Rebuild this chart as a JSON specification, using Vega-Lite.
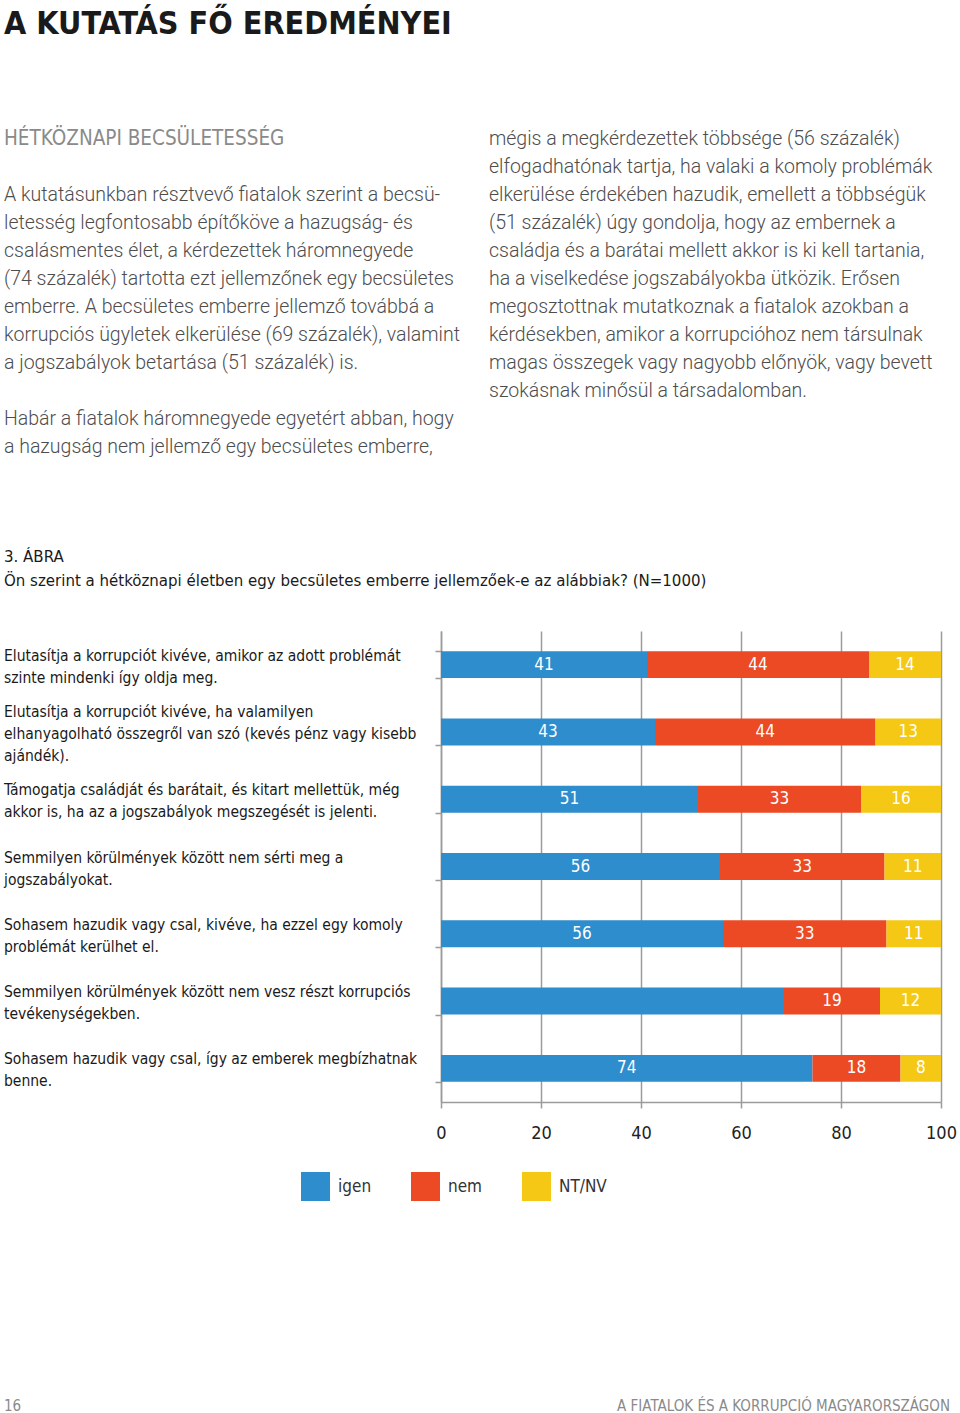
{
  "$schema": "https://vega.github.io/schema/vega-lite/v6.json",
  "padding": {"left": 4, "top": 8, "right": 0, "bottom": 0},
  "background": "white",
  "spacing": 0,
  "config": {
    "view": {"stroke": null},
    "font": "DejaVu Sans Condensed, sans-serif"
  },
  "vconcat": [
    {
      "width": 485,
      "height": 410,
      "title": {"text": "A KUTATÁS FŐ EREDMÉNYEI", "anchor": "start", "fontSize": 32, "fontWeight": "bold", "color": "#1a1a1a", "offset": 88},
      "data": {"values": [
        {"col": "left", "line": 0, "kind": "heading", "text": "HÉTKÖZNAPI BECSÜLETESSÉG"},
        {"col": "left", "line": 2, "kind": "body", "text": "A kutatásunkban résztvevő fiatalok szerint a becsü-"},
        {"col": "left", "line": 3, "kind": "body", "text": "letesség legfontosabb építőköve a hazugság- és"},
        {"col": "left", "line": 4, "kind": "body", "text": "csalásmentes élet, a kérdezettek háromnegyede"},
        {"col": "left", "line": 5, "kind": "body", "text": "(74 százalék) tartotta ezt jellemzőnek egy becsületes"},
        {"col": "left", "line": 6, "kind": "body", "text": "emberre. A becsületes emberre jellemző továbbá a"},
        {"col": "left", "line": 7, "kind": "body", "text": "korrupciós ügyletek elkerülése (69 százalék), valamint"},
        {"col": "left", "line": 8, "kind": "body", "text": "a jogszabályok betartása (51 százalék) is."},
        {"col": "left", "line": 10, "kind": "body", "text": "Habár a fiatalok háromnegyede egyetért abban, hogy"},
        {"col": "left", "line": 11, "kind": "body", "text": "a hazugság nem jellemző egy becsületes emberre,"},
        {"col": "right", "line": 0, "kind": "body", "text": "mégis a megkérdezettek többsége (56 százalék)"},
        {"col": "right", "line": 1, "kind": "body", "text": "elfogadhatónak tartja, ha valaki a komoly problémák"},
        {"col": "right", "line": 2, "kind": "body", "text": "elkerülése érdekében hazudik, emellett a többségük"},
        {"col": "right", "line": 3, "kind": "body", "text": "(51 százalék) úgy gondolja, hogy az embernek a"},
        {"col": "right", "line": 4, "kind": "body", "text": "családja és a barátai mellett akkor is ki kell tartania,"},
        {"col": "right", "line": 5, "kind": "body", "text": "ha a viselkedése jogszabályokba ütközik. Erősen"},
        {"col": "right", "line": 6, "kind": "body", "text": "megosztottnak mutatkoznak a fiatalok azokban a"},
        {"col": "right", "line": 7, "kind": "body", "text": "kérdésekben, amikor a korrupcióhoz nem társulnak"},
        {"col": "right", "line": 8, "kind": "body", "text": "magas összegek vagy nagyobb előnyök, vagy bevett"},
        {"col": "right", "line": 9, "kind": "body", "text": "szokásnak minősül a társadalomban."}
      ]},
      "encoding": {
        "x": {"field": "col", "type": "nominal", "scale": {"type": "point", "padding": 0, "domain": ["left", "right"]}, "axis": null},
        "y": {"field": "line", "type": "quantitative", "scale": {"domain": [0, 14.643], "reverse": true, "nice": false}, "axis": null},
        "text": {"field": "text", "type": "nominal"}
      },
      "layer": [
        {
          "transform": [{"filter": "datum.kind === 'body'"}],
          "mark": {"type": "text", "align": "left", "baseline": "middle", "font": "Roboto", "fontWeight": 300, "fontSize": 19.5, "color": "#4d4d4d"}
        },
        {
          "transform": [{"filter": "datum.kind === 'heading'"}],
          "mark": {"type": "text", "align": "left", "baseline": "middle", "fontSize": 20.5, "color": "#8a8a8a"}
        }
      ]
    },
    {
      "title": {"text": ["3. ÁBRA", "Ön szerint a hétköznapi életben egy becsületes emberre jellemzőek-e az alábbiak? (N=1000)"], "anchor": "start", "fontSize": 16.7, "fontWeight": "normal", "lineHeight": 24, "color": "#1a1a1a", "offset": 41},
      "spacing": 10,
      "hconcat": [
        {
          "width": 420,
          "height": 471,
          "data": {"values": [
            {"q": 1, "lines": ["Elutasítja a korrupciót kivéve, amikor az adott problémát", "szinte mindenki így oldja meg."]},
            {"q": 2, "lines": ["Elutasítja a korrupciót kivéve, ha valamilyen", "elhanyagolható összegről van szó (kevés pénz vagy kisebb", "ajándék)."]},
            {"q": 3, "lines": ["Támogatja családját és barátait, és kitart mellettük, még", "akkor is, ha az a jogszabályok megszegését is jelenti."]},
            {"q": 4, "lines": ["Semmilyen körülmények között nem sérti meg a", "jogszabályokat."]},
            {"q": 5, "lines": ["Sohasem hazudik vagy csal, kivéve, ha ezzel egy komoly", "problémát kerülhet el."]},
            {"q": 6, "lines": ["Semmilyen körülmények között nem vesz részt korrupciós", "tevékenységekben."]},
            {"q": 7, "lines": ["Sohasem hazudik vagy csal, így az emberek megbízhatnak", "benne."]}
          ]},
          "encoding": {
            "y": {"field": "q", "type": "ordinal", "scale": {"type": "band", "domain": [1, 2, 3, 4, 5, 6, 7], "paddingInner": 0.6, "paddingOuter": 0.3}, "axis": null},
            "x": {"value": 0},
            "text": {"field": "lines", "type": "nominal"}
          },
          "layer": [
            {
              "transform": [{"filter": "length(datum.lines) === 2"}],
              "mark": {"type": "text", "align": "left", "baseline": "middle", "dy": -9, "fontSize": 15.5, "lineHeight": 22, "color": "#1a1a1a"}
            },
            {
              "transform": [{"filter": "length(datum.lines) === 3"}],
              "mark": {"type": "text", "align": "left", "baseline": "middle", "dy": -19.5, "fontSize": 15.5, "lineHeight": 22, "color": "#1a1a1a"}
            }
          ]
        },
        {
          "width": 500,
          "height": 471,
          "data": {"values": [
            {"q": 1, "answer": "igen", "order": 1, "value": 41.2, "label": "41"},
            {"q": 1, "answer": "nem", "order": 2, "value": 44.4, "label": "44"},
            {"q": 1, "answer": "NT/NV", "order": 3, "value": 14.4, "label": "14"},
            {"q": 2, "answer": "igen", "order": 1, "value": 42.8, "label": "43"},
            {"q": 2, "answer": "nem", "order": 2, "value": 44.1, "label": "44"},
            {"q": 2, "answer": "NT/NV", "order": 3, "value": 13.1, "label": "13"},
            {"q": 3, "answer": "igen", "order": 1, "value": 51.4, "label": "51"},
            {"q": 3, "answer": "nem", "order": 2, "value": 32.6, "label": "33"},
            {"q": 3, "answer": "NT/NV", "order": 3, "value": 16.0, "label": "16"},
            {"q": 4, "answer": "igen", "order": 1, "value": 55.8, "label": "56"},
            {"q": 4, "answer": "nem", "order": 2, "value": 32.9, "label": "33"},
            {"q": 4, "answer": "NT/NV", "order": 3, "value": 11.3, "label": "11"},
            {"q": 5, "answer": "igen", "order": 1, "value": 56.4, "label": "56"},
            {"q": 5, "answer": "nem", "order": 2, "value": 32.7, "label": "33"},
            {"q": 5, "answer": "NT/NV", "order": 3, "value": 10.9, "label": "11"},
            {"q": 6, "answer": "igen", "order": 1, "value": 68.6, "label": ""},
            {"q": 6, "answer": "nem", "order": 2, "value": 19.2, "label": "19"},
            {"q": 6, "answer": "NT/NV", "order": 3, "value": 12.2, "label": "12"},
            {"q": 7, "answer": "igen", "order": 1, "value": 74.3, "label": "74"},
            {"q": 7, "answer": "nem", "order": 2, "value": 17.6, "label": "18"},
            {"q": 7, "answer": "NT/NV", "order": 3, "value": 8.1, "label": "8"}
          ]},
          "encoding": {
            "y": {
              "field": "q", "type": "ordinal",
              "scale": {"type": "band", "domain": [1, 2, 3, 4, 5, 6, 7], "paddingInner": 0.6, "paddingOuter": 0.3},
              "axis": {
                "title": null, "labels": false, "tickBand": "extent", "tickSize": 6, "tickColor": "#9b9b9b", "tickWidth": 1.5,
                "domainColor": "#9b9b9b", "domainWidth": 1.5
              }
            }
          },
          "layer": [
            {
              "mark": {"type": "bar"},
              "encoding": {
                "x": {
                  "field": "value", "type": "quantitative", "stack": "zero",
                  "scale": {"domain": [0, 100], "nice": false},
                  "axis": {
                    "title": null, "values": [0, 20, 40, 60, 80, 100], "grid": true, "gridColor": "#9b9b9b", "gridWidth": 1.5,
                    "domainColor": "#9b9b9b", "domainWidth": 1.5, "tickColor": "#9b9b9b", "tickWidth": 1.5, "tickSize": 6,
                    "labelFontSize": 18, "labelColor": "#222222", "labelPadding": 16, "labelFlush": false
                  }
                },
                "color": {
                  "field": "answer", "type": "nominal",
                  "scale": {"domain": ["igen", "nem", "NT/NV"], "range": ["#2E8DCD", "#EC4A24", "#F4C814"]},
                  "legend": {
                    "orient": "none", "legendX": 297, "legendY": 1033, "direction": "horizontal", "title": null,
                    "symbolType": "square", "symbolSize": 841, "symbolStrokeWidth": 0, "symbolOpacity": 1,
                    "labelFontSize": 17, "labelColor": "#333333", "labelOffset": 8, "columnPadding": 39, "padding": 0
                  }
                },
                "order": {"field": "order", "type": "quantitative"}
              }
            },
            {
              "transform": [
                {"stack": "value", "groupby": ["q"], "sort": [{"field": "order"}], "as": ["x0", "x1"]},
                {"fold": ["x0", "x1"], "as": ["edge", "pos"]},
                {"aggregate": [{"op": "mean", "field": "pos", "as": "mid"}], "groupby": ["q", "answer", "label"]}
              ],
              "mark": {"type": "text", "color": "white", "fontSize": 17, "baseline": "middle", "align": "center"},
              "encoding": {
                "x": {"field": "mid", "type": "quantitative"},
                "text": {"field": "label", "type": "nominal"}
              }
            }
          ]
        }
      ]
    },
    {
      "width": 946,
      "height": 264,
      "data": {"values": [
        {"side": "left", "text": "16"},
        {"side": "right", "text": "A FIATALOK ÉS A KORRUPCIÓ MAGYARORSZÁGON"}
      ]},
      "encoding": {
        "x": {"field": "side", "type": "nominal", "scale": {"type": "point", "padding": 0, "domain": ["left", "right"]}, "axis": null},
        "y": {"value": "height"},
        "text": {"field": "text", "type": "nominal"}
      },
      "layer": [
        {"transform": [{"filter": "datum.side === 'left'"}], "mark": {"type": "text", "align": "left", "baseline": "middle", "fontSize": 15, "color": "#8a8a8a"}},
        {"transform": [{"filter": "datum.side === 'right'"}], "mark": {"type": "text", "align": "right", "baseline": "middle", "fontSize": 15, "color": "#8a8a8a"}}
      ]
    }
  ]
}
